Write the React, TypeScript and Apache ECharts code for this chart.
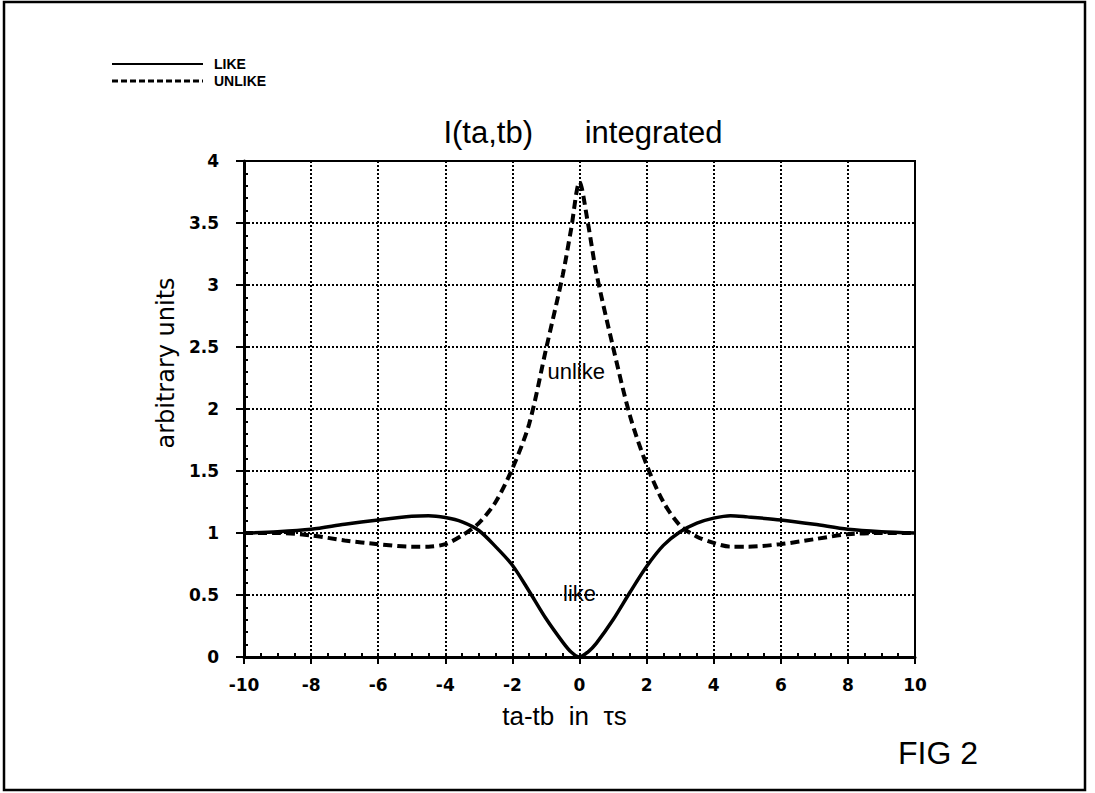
import React, { useEffect, useRef } from 'react';
import * as echarts from 'echarts';

const xValues = [-10, -9, -8, -7, -6, -5, -4.5, -4, -3.5, -3, -2.5, -2, -1.5, -1, -0.5, -0.25, 0, 0.25, 0.5, 1, 1.5, 2, 2.5, 3, 3.5, 4, 4.5, 5, 6, 7, 8, 9, 10];
const likeValues = [1.0, 1.01, 1.03, 1.07, 1.105, 1.135, 1.14, 1.125, 1.09, 1.02, 0.89, 0.74, 0.53, 0.31, 0.12, 0.04, 0.0, 0.04, 0.11, 0.3, 0.52, 0.73, 0.9, 1.01, 1.08, 1.12, 1.14, 1.13, 1.105, 1.07, 1.03, 1.01, 1.0];
const unlikeValues = [1.0, 1.0, 0.98, 0.94, 0.91, 0.89, 0.89, 0.91, 0.98, 1.08, 1.25, 1.52, 1.88, 2.48, 3.08, 3.45, 3.83, 3.5, 3.1, 2.5, 1.95, 1.55, 1.25, 1.06, 0.97, 0.92, 0.89, 0.89, 0.91, 0.95, 0.99, 1.0, 1.0];
const seriesNames = ['LIKE', 'UNLIKE'];
const curveLabels = ['like', 'unlike'];
const curveLabelCoords = [[0, 0.51], [-0.1, 2.3]];
const titleText = 'I(ta,tb)      integrated';
const xAxisName = 'ta-tb  in  τs';
const yAxisName = 'arbitrary units';
const figText = 'FIG 2';

const FONT = 'Liberation Sans, Arial, Helvetica, sans-serif';
const TICK_FONT = 'DejaVu Sans, sans-serif';

export default function App() {
  const ref = useRef<HTMLDivElement>(null);
  useEffect(() => {
    const chart = echarts.init(ref.current!, null, { renderer: 'svg' });
    const likeData = xValues.map((x, i) => [x, likeValues[i]]);
    const unlikeData = xValues.map((x, i) => [x, unlikeValues[i]]);
    const markLabel = (i: number) => ({
      symbol: 'rect',
      symbolSize: 1,
      itemStyle: { color: 'rgba(0,0,0,0)' },
      label: {
        show: true,
        position: 'inside',
        formatter: curveLabels[i],
        color: '#000',
        fontSize: 22,
        fontFamily: FONT,
      },
      data: [{ coord: curveLabelCoords[i] }],
    });
    chart.setOption({
      animation: false,
      backgroundColor: '#fff',
      title: {
        text: titleText,
        left: 578,
        top: 112,
        textAlign: 'center',
        textStyle: { fontSize: 31, fontWeight: 'normal', fontFamily: FONT, color: '#000' },
      },
      grid: {
        left: 244,
        right: 180,
        top: 161,
        bottom: 136,
        show: true,
        borderColor: '#000',
        borderWidth: 2,
        backgroundColor: 'transparent',
      },
      xAxis: [
        {
          type: 'value',
          min: -10,
          max: 10,
          interval: 2,
          position: 'bottom',
          axisLine: { show: true, onZero: false, lineStyle: { color: '#000', width: 3 } },
          axisTick: { show: true, inside: false, length: 7, lineStyle: { color: '#000', width: 2 } },
          axisLabel: { color: '#000', fontFamily: TICK_FONT, fontWeight: 'bold', fontSize: 17, margin: 19 },
          splitLine: { show: true, lineStyle: { type: [2, 2], color: '#000', width: 2 } },
          name: xAxisName,
          nameLocation: 'middle',
          nameGap: 46,
          nameTextStyle: { fontSize: 26, fontFamily: FONT, color: '#000', padding: [0, 30, 0, 0] },
        },
        {
          type: 'value',
          min: -10,
          max: 10,
          interval: 0.5,
          position: 'bottom',
          axisLine: { show: false, onZero: false },
          axisTick: { show: true, inside: true, length: 4, lineStyle: { color: '#000', width: 2 } },
          axisLabel: { show: false },
          splitLine: { show: false },
        },
      ],
      yAxis: [
        {
          type: 'value',
          min: 0,
          max: 4,
          interval: 0.5,
          position: 'left',
          axisLine: { show: true, onZero: false, lineStyle: { color: '#000', width: 3 } },
          axisTick: { show: true, inside: false, length: 8, lineStyle: { color: '#000', width: 2 } },
          axisLabel: { color: '#000', fontFamily: TICK_FONT, fontWeight: 'bold', fontSize: 17, margin: 25 },
          splitLine: { show: true, lineStyle: { type: [2, 2], color: '#000', width: 2 } },
          name: yAxisName,
          nameLocation: 'middle',
          nameGap: 52,
          nameRotate: 90,
          nameTextStyle: { fontSize: 24, fontFamily: TICK_FONT, color: '#000', padding: [0, 0, 0, 92] },
        },
        {
          type: 'value',
          min: 0,
          max: 4,
          interval: 0.1,
          position: 'left',
          axisLine: { show: false, onZero: false },
          axisTick: { show: true, inside: true, length: 4, lineStyle: { color: '#000', width: 2 } },
          axisLabel: { show: false },
          splitLine: { show: false },
        },
      ],
      series: [
        {
          name: seriesNames[0],
          type: 'line',
          xAxisIndex: 0,
          yAxisIndex: 0,
          data: likeData,
          smooth: 0.3,
          symbol: 'none',
          lineStyle: { color: '#000', width: 3.5 },
          markPoint: markLabel(0),
        },
        {
          name: seriesNames[1],
          type: 'line',
          xAxisIndex: 0,
          yAxisIndex: 0,
          data: unlikeData,
          smooth: 0.3,
          symbol: 'none',
          lineStyle: { color: '#000', width: 4, type: [9, 5] },
          markPoint: markLabel(1),
        },
      ],
      graphic: [
        { type: 'rect', shape: { x: 4, y: 2, width: 1081, height: 788 }, style: { fill: 'none', stroke: '#000', lineWidth: 2.5 } },
        { type: 'line', shape: { x1: 112, y1: 64, x2: 203, y2: 64 }, style: { stroke: '#000', lineWidth: 2 } },
        { type: 'line', shape: { x1: 112, y1: 81, x2: 203, y2: 81 }, style: { stroke: '#000', lineWidth: 3, lineDash: [6, 3] } },
        { type: 'text', x: 214, y: 64, style: { text: seriesNames[0], fontSize: 14, fontWeight: 'bold', fontFamily: FONT, fill: '#000', verticalAlign: 'middle', align: 'left' } },
        { type: 'text', x: 214, y: 81, style: { text: seriesNames[1], fontSize: 14, fontWeight: 'bold', fontFamily: FONT, fill: '#000', verticalAlign: 'middle', align: 'left' } },
        { type: 'text', x: 938, y: 753, style: { text: figText, fontSize: 32, fontFamily: FONT, fill: '#000', verticalAlign: 'middle', align: 'center' } },
      ],
    });
    return () => chart.dispose();
  }, []);
  return (
    <div
      ref={ref}
      style={{ position: 'absolute', left: 0, top: 0, width: 1095, height: 793, background: '#fff' }}
    />
  );
}
